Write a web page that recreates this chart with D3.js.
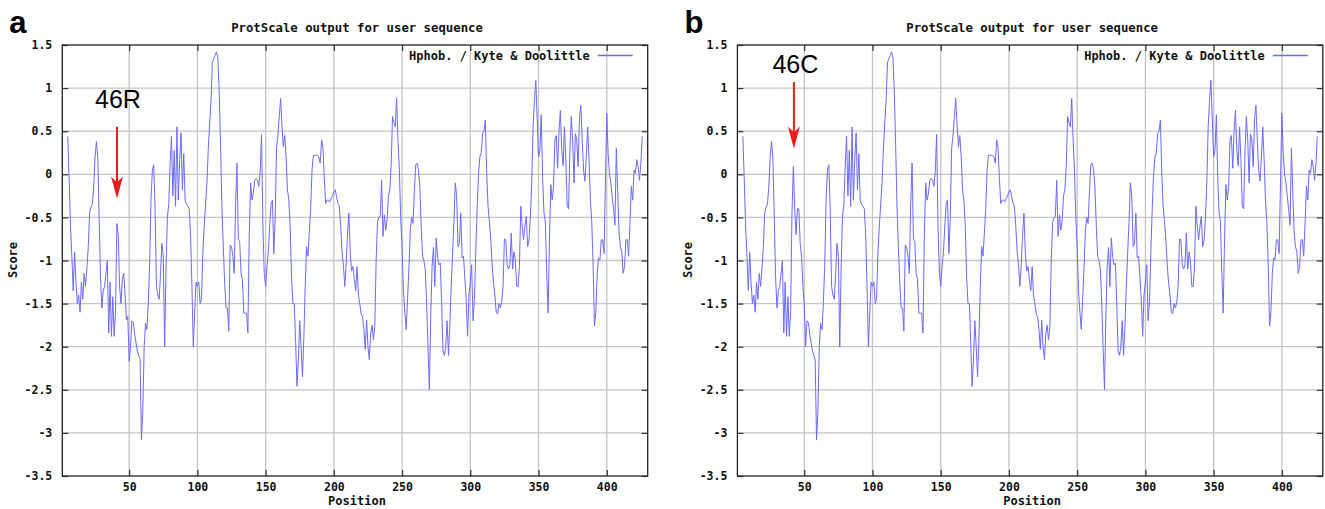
<!DOCTYPE html>
<html><head><meta charset="utf-8">
<script src="https://cdn.jsdelivr.net/npm/d3@7"></script>
<style>body{margin:0;background:#fff}svg{display:block}</style>
</head><body>
<svg id="chart" width="1325" height="509"></svg>
<script>
// ---- data ----
const firstPosition = 5;          // first window centre (window size 9)
const positionDomain = [1, 430];  // x range of the plot
const scoreDomain = [-3.5, 1.5];
const xTickValues = [50, 100, 150, 200, 250, 300, 350, 400];
const yTickValues = [1.5, 1, 0.5, 0, -0.5, -1, -1.5, -2, -2.5, -3, -3.5];

// Kyte & Doolittle hydropathy, panel a (46R), positions 5..426
const scoreA = [
  0.44, -0.05, -0.6, -0.95, -1.35, -0.9, -1.25, -1.5, -1.4, -1.6,
  -1.25, -1.45, -1.15, -1.3, -1.1, -0.85, -0.45, -0.38, -0.35, -0.15,
  0.2, 0.38, 0.2, -0.5, -1.2, -1.55, -1.35, -1.3, -1.15, -1.0,
  -1.84, -1.25, -1.88, -1.42, -1.88, -1.6, -0.57, -0.7, -1.3, -1.5,
  -1.22, -1.15, -1.4, -1.69, -1.65, -2.17, -2.0, -1.7, -1.72, -1.85,
  -1.95, -2.05, -2.1, -2.15, -3.08, -2.75, -2.0, -1.73, -1.8, -1.5,
  -1.05, -0.3, 0.05, 0.11, -0.4, -1.3, -1.4, -1.45, -1.15, -0.8,
  -0.95, -2.0, -1.1, -0.5, -0.35, 0.1, 0.44, -0.25, 0.28, -0.37,
  0.55, -0.3, 0.17, 0.48, -0.18, 0.24, -0.3, -0.35, -0.37, -0.4,
  -0.7, -1.3, -2.0, -1.6, -1.25, -1.3, -1.25, -1.5, -1.45, -0.9,
  -0.6, -0.35, -0.1, 0.3, 0.6, 0.85, 1.3, 1.34, 1.38, 1.42,
  1.35, 0.95, 0.32, -0.4, -0.85, -1.26, -1.55, -1.55, -1.82, -0.82,
  -0.84, -0.95, -1.15, -0.35, 0.13, -0.75, -0.78, -1.15, -1.22, -1.61,
  -1.61, -1.61, -1.84, -0.7, -0.1, -0.3, -0.22, -0.07, -0.05, -0.07,
  -0.14, 0.03, 0.46, -0.6, -1.15, -1.3, -1.07, -0.9, -0.6, -0.34,
  -0.3, -0.92, -0.5, 0.3, 0.45, 0.67, 0.88, 0.55, 0.32, 0.45,
  0.2, -0.18, -0.3, -0.61, -1.2, -1.5, -1.5, -1.96, -2.46, -2.15,
  -1.7, -2.0, -2.35, -1.9, -1.3, -0.84, -0.95, -0.68, -0.4, 0.05,
  0.22, 0.22, 0.22, 0.22, 0.2, 0.13, 0.4, 0.32, -0.05, -0.34,
  -0.3, -0.3, -0.32, -0.28, -0.25, -0.2, -0.18, -0.26, -0.34, -0.37,
  -0.6, -0.9, -1.05, -1.3, -1.05, -0.7, -0.45, -0.92, -1.12, -1.07,
  -1.22, -1.35, -1.07, -1.4, -1.5, -1.62, -1.65, -1.8, -2.03, -1.69,
  -2.0, -2.15, -1.85, -1.75, -1.92, -1.76, -1.0, -0.55, -0.5, -0.49,
  -0.07, -0.72, -0.47, -0.65, -0.53, -0.25, -0.18, 0.1, 0.67, 0.6,
  0.55, 0.88, 0.4, 0.05, -0.5, -0.84, -1.35, -1.6, -1.8, -1.45,
  -1.1, -0.65, -0.5, -0.57, -0.2, 0.11, 0.13, 0.05, -0.14, -0.6,
  -0.95, -1.0, -1.1, -1.5, -2.0, -2.5, -1.65, -1.07, -0.85, -1.3,
  -0.74, -0.95, -1.05, -1.03, -1.5, -2.05, -2.1, -2.0, -1.7, -2.1,
  -1.75, -1.3, -0.92, -0.55, -0.1, -0.26, -0.84, -0.8, -0.45, -0.97,
  -0.95, -1.2, -1.46, -1.88, -1.4, -1.25, -1.05, -1.7, -1.46, -0.9,
  -0.4, 0.0, 0.2, 0.25, 0.47, 0.5, 0.63, 0.01, -0.37, -0.55,
  -0.76, -1.05, -1.26, -1.4, -1.6, -1.62, -1.5, -1.55, -1.48, -1.3,
  -0.75, -0.76, -1.05, -1.1, -1.05, -0.68, -1.1, -0.9, -1.0, -1.3,
  -1.3, -1.07, -0.37, -0.6, -0.76, -0.6, -0.49, -0.84, -0.76, -0.5,
  -0.1, 0.55, 0.86, 1.09, 0.65, 0.2, 0.28, 0.69, -0.05, -0.45,
  -0.55, -1.15, -1.61, -0.76, -0.12, -0.3, -0.14, 0.4, 0.45, 0.07,
  0.5, 0.74, 0.28, 0.1, 0.55, 0.17, -0.37, -0.4, 0.28, 0.67,
  0.4, -0.1, 0.47, 0.4, 0.09, 0.65, 0.8, 0.4, 0.05, -0.08,
  0.2, 0.55, 0.17, -0.3, -0.55, -1.05, -1.76, -1.6, -1.15, -0.97,
  -0.99, -0.76, -0.76, -0.92, -0.1, 0.71, 0.24, 0.0, -0.1, -0.26,
  -0.41, -0.59, 0.3, -0.2, -0.68, -0.84, -0.9, -1.15, -1.07, -0.76,
  -0.76, -0.95, -0.57, -0.14, -0.3, 0.05, 0.01, 0.17, 0.09, -0.07,
  0.13, 0.44
];

// panel b (46C) differs only in the windows that contain position 46
const mutStartB = 41;
const mutScoreB = [-0.45, 0.09, -0.4, -0.7, -0.4, -0.4, -0.8, -0.95, -1.3, -1.5];
const scoreB = scoreA.map((v, i) => {
  const k = firstPosition + i - mutStartB;
  return (k >= 0 && k < mutScoreB.length) ? mutScoreB[k] : v;
});

const panelLetters = ["a", "b"];
const mutationLabels = ["46R", "46C"];
const arrowPositions = [41.1, 42.4];
const arrowTopScores = [0.55, 1.07];
const arrowTipScores = [-0.28, 0.30];
const labelScores = [0.77, 1.17];
const labelPositions = [25.0, 26.7];

// ---- layout ----
const svg = d3.select("#chart");
const panelLefts = [62.3, 737.4];
const plotW = 585.4, plotTop = 45, plotBottom = 476;
const mono = "'DejaVu Sans Mono', monospace";
const sans = "'Liberation Sans', Arial, sans-serif";
const lineColor = "#6a6aff";
const gridColor = "#c4c4c4";

[scoreA, scoreB].forEach((scores, pi) => {
  const g = svg.append("g").attr("transform", `translate(${panelLefts[pi]},0)`);
  const x = d3.scaleLinear().domain(positionDomain).range([0, plotW]);
  const y = d3.scaleLinear().domain(scoreDomain).range([plotBottom, plotTop]);

  // grid
  g.append("g").selectAll("line").data(xTickValues).join("line")
    .attr("x1", d => x(d)).attr("x2", d => x(d))
    .attr("y1", plotTop).attr("y2", plotBottom)
    .attr("stroke", gridColor).attr("stroke-width", 1.3);
  g.append("g").selectAll("line").data(yTickValues.slice(1, -1)).join("line")
    .attr("x1", 0).attr("x2", plotW)
    .attr("y1", d => y(d)).attr("y2", d => y(d))
    .attr("stroke", gridColor).attr("stroke-width", 1.3);

  // axes (ticks inward)
  const styleAxis = sel => {
    sel.select(".domain").remove();
    sel.selectAll(".tick line").attr("stroke", "#333").attr("stroke-width", 1.2);
    sel.selectAll("text").attr("font-family", mono).attr("font-size", "11.5px")
      .attr("font-weight", "bold").attr("fill", "#111");
  };
  g.append("g")
    .call(d3.axisLeft(y).tickValues(yTickValues).tickSizeInner(-6).tickSizeOuter(0)
      .tickPadding(10).tickFormat(d => String(d)))
    .call(styleAxis);
  g.append("g").attr("transform", `translate(${plotW},0)`)
    .call(d3.axisRight(y).tickValues(yTickValues).tickSizeInner(-6).tickSizeOuter(0).tickFormat(""))
    .call(styleAxis);
  g.append("g").attr("transform", `translate(0,${plotBottom})`)
    .call(d3.axisBottom(x).tickValues(xTickValues).tickSizeInner(-6).tickSizeOuter(0)
      .tickPadding(7).tickFormat(d => String(d)))
    .call(styleAxis);
  g.append("g").attr("transform", `translate(0,${plotTop})`)
    .call(d3.axisTop(x).tickValues(xTickValues).tickSizeInner(-6).tickSizeOuter(0).tickFormat(""))
    .call(styleAxis);

  // data line
  const line = d3.line().x((d, i) => x(firstPosition + i)).y(d => y(d));
  g.append("path").datum(scores).attr("d", line)
    .attr("fill", "none").attr("stroke", lineColor).attr("stroke-width", 1)
    .attr("stroke-linejoin", "miter");

  // border
  g.append("rect").attr("x", 0).attr("y", plotTop).attr("width", plotW)
    .attr("height", plotBottom - plotTop).attr("fill", "none")
    .attr("stroke", "#222").attr("stroke-width", 1.3);

  // legend
  g.append("text").attr("x", plotW - 58).attr("y", 60).attr("text-anchor", "end")
    .attr("font-family", mono).attr("font-size", "12px").attr("font-weight", "bold")
    .attr("fill", "#111").text("Hphob. / Kyte & Doolittle");
  g.append("line").attr("x1", plotW - 50).attr("x2", plotW - 15)
    .attr("y1", 55.5).attr("y2", 55.5).attr("stroke", lineColor).attr("stroke-width", 1.3);

  // titles
  g.append("text").attr("x", plotW / 2 + 2).attr("y", 32).attr("text-anchor", "middle")
    .attr("font-family", mono).attr("font-size", "12.3px").attr("font-weight", "bold")
    .attr("fill", "#111").text("ProtScale output for user sequence");
  g.append("text").attr("x", plotW / 2 + 2).attr("y", 505).attr("text-anchor", "middle")
    .attr("font-family", mono).attr("font-size", "12px").attr("font-weight", "bold")
    .attr("fill", "#111").text("Position");
  g.append("text").attr("transform", `translate(-45,260) rotate(-90)`)
    .attr("text-anchor", "middle")
    .attr("font-family", mono).attr("font-size", "12px").attr("font-weight", "bold")
    .attr("fill", "#111").text("Score");

  // panel letter
  g.append("text").attr("x", -53).attr("y", 33)
    .attr("font-family", sans).attr("font-size", "31px").attr("font-weight", "bold")
    .attr("fill", "#000").text(panelLetters[pi]);

  // mutation annotation
  g.append("text").attr("x", x(labelPositions[pi])).attr("y", y(labelScores[pi]))
    .attr("font-family", sans).attr("font-size", "25px").attr("fill", "#000")
    .text(mutationLabels[pi]);
  const ax = x(arrowPositions[pi]);
  const yTop = y(arrowTopScores[pi]), yTip = y(arrowTipScores[pi]);
  g.append("line").attr("x1", ax).attr("x2", ax).attr("y1", yTop).attr("y2", yTip - 14)
    .attr("stroke", "#f01818").attr("stroke-width", 2);
  g.append("path")
    .attr("d", `M${ax},${yTip} L${ax - 6},${yTip - 22} L${ax},${yTip - 16} L${ax + 6},${yTip - 22} Z`)
    .attr("fill", "#f01818");
});
</script>
</body></html>
